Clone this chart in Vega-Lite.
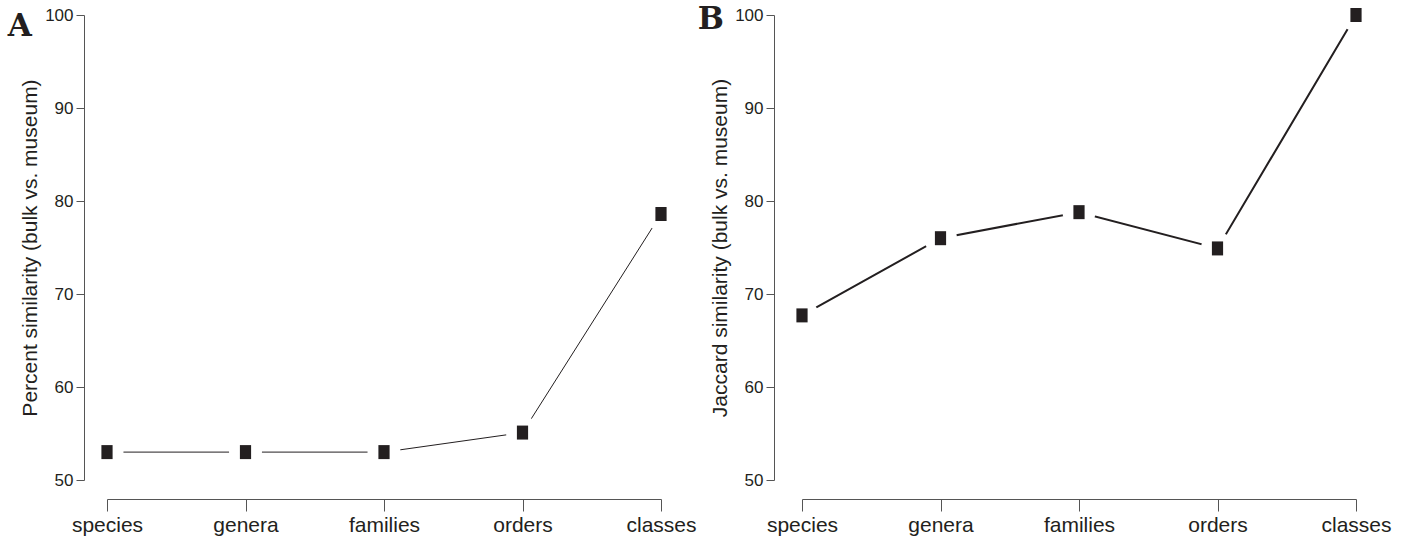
{
  "$schema": "https://vega.github.io/schema/vega-lite/v6.json",
  "background": "white",
  "padding": {"left": 7, "top": -2, "right": 5, "bottom": 5},
  "bounds": "flush",
  "spacing": 141,
  "config": {
    "view": {"stroke": null},
    "font": "Liberation Sans",
    "axis": {
      "grid": false,
      "domainColor": "#555555",
      "tickColor": "#555555",
      "labelColor": "#231f20",
      "titleColor": "#231f20",
      "labelFont": "Liberation Sans",
      "titleFont": "Liberation Sans",
      "titleFontWeight": "normal"
    }
  },
  "hconcat": [
    {
      "title": {"text": "A", "font": "DejaVu Serif", "fontSize": 31, "fontWeight": "bold", "anchor": "start", "frame": "bounds", "color": "#231f20", "dx": -12, "dy": 41},
      "width": 554,
      "height": 465,
      "data": {"values": [
        {"level": "species", "value": 53.0},
        {"level": "genera", "value": 53.0},
        {"level": "families", "value": 53.0},
        {"level": "orders", "value": 55.1},
        {"level": "classes", "value": 78.6}
      ]},
      "encoding": {
        "x": {"field": "level", "type": "ordinal", "sort": ["species", "genera", "families", "orders", "classes"],
              "scale": {"type": "point", "padding": 0},
              "axis": {"title": null, "labelAngle": 0, "offset": 19, "tickSize": 12, "labelFontSize": 21, "labelPadding": 3}},
        "y": {"field": "value", "type": "quantitative", "scale": {"domain": [50, 100], "nice": false, "zero": false},
              "axis": {"title": "Percent similarity (bulk vs. museum)", "values": [50, 60, 70, 80, 90, 100], "offset": 23, "tickSize": 8, "labelFontSize": 17, "titleFontSize": 21, "titlePadding": 4, "labelPadding": 3}}
      },
      "layer": [
        {"mark": {"type": "line", "color": "#231f20", "strokeWidth": 1}},
        {"mark": {"type": "point", "shape": "circle", "filled": true, "color": "white", "opacity": 1, "size": 1089}},
        {"mark": {"type": "point", "shape": "M-0.8,-1H0.8V1H-0.8Z", "filled": true, "color": "#231f20", "opacity": 1, "size": 196}}
      ]
    },
    {
      "title": {"text": "B", "font": "DejaVu Serif", "fontSize": 31, "fontWeight": "bold", "anchor": "start", "frame": "bounds", "color": "#231f20", "dx": -12, "dy": 41},
      "width": 554,
      "height": 465,
      "data": {"values": [
        {"level": "species", "value": 67.7},
        {"level": "genera", "value": 76.0},
        {"level": "families", "value": 78.8},
        {"level": "orders", "value": 74.9},
        {"level": "classes", "value": 100.0}
      ]},
      "encoding": {
        "x": {"field": "level", "type": "ordinal", "sort": ["species", "genera", "families", "orders", "classes"],
              "scale": {"type": "point", "padding": 0},
              "axis": {"title": null, "labelAngle": 0, "offset": 19, "tickSize": 12, "labelFontSize": 21, "labelPadding": 3}},
        "y": {"field": "value", "type": "quantitative", "scale": {"domain": [50, 100], "nice": false, "zero": false},
              "axis": {"title": "Jaccard similarity (bulk vs. museum)", "values": [50, 60, 70, 80, 90, 100], "offset": 28, "tickSize": 8, "labelFontSize": 17, "titleFontSize": 21, "titlePadding": 4, "labelPadding": 3}}
      },
      "layer": [
        {"mark": {"type": "line", "color": "#231f20", "strokeWidth": 2}},
        {"mark": {"type": "point", "shape": "circle", "filled": true, "color": "white", "opacity": 1, "size": 1089}},
        {"mark": {"type": "point", "shape": "M-0.8,-1H0.8V1H-0.8Z", "filled": true, "color": "#231f20", "opacity": 1, "size": 196}}
      ]
    }
  ]
}
